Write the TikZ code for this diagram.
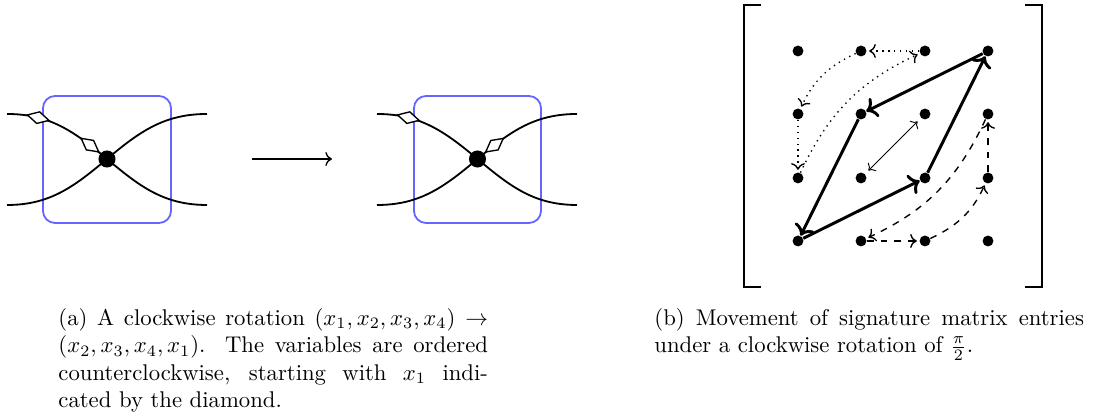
\documentclass[tikz,border=0pt]{standalone}
\usepackage{amsmath}
\usetikzlibrary{arrows.meta,shapes.geometric}
\tikzset{
  wire/.style={thick},
  region/.style={draw=blue!60, thick, rounded corners=5.3pt},
  vertex/.style={circle, fill=black, inner sep=0pt, minimum size=7.5pt},
  marker/.style={diamond, draw, fill=white, semithick, inner sep=0pt,
    minimum width=10pt, minimum height=5.5pt, sloped},
  entry/.style={circle, fill=black, inner sep=0pt, minimum size=4.8pt},
  mainmove/.style={->, line width=1.3pt},
  dotmove/.style={->, dotted, semithick, shorten >=1pt},
  dashmove/.style={->, dashed, semithick, shorten >=1pt},
  caption/.style={text width=189pt, align=justify, inner sep=0pt, anchor=north west}
}

\begin{document}
\begin{tikzpicture}[x=0.44pt, y=0.44pt]
    \useasboundingbox (0,0) rectangle (1117,418);

    % Before the rotation
    \draw[region] (43,195) rectangle (171,322);
    \coordinate (ca) at (107,259);
    \coordinate (la1) at (7,304);   \coordinate (la2) at (7,213);
    \coordinate (ra1) at (207,304); \coordinate (ra2) at (207,213);
    \draw[wire] (la1) to[out=0,in=140]
        node[marker, pos=0.27] (da1) {}
        node[marker, pos=0.82] (da2) {} (ca)
        to[out=-40,in=180] (ra2);
    \draw[wire] (la2) to[out=0,in=-140] (ca) to[out=40,in=180] (ra1);
    \node[vertex] (va) at (ca) {};

    % Rotation arrow
    \coordinate (rotfrom) at (252,259);
    \coordinate (rotto) at (332,259);
    \draw[->, semithick] (rotfrom) -- (rotto);

    % After the rotation
    \draw[region] (414,195) rectangle (541,322);
    \coordinate (cb) at (477.5,259);
    \coordinate (lb1) at (377,304); \coordinate (lb2) at (377,213);
    \coordinate (rb1) at (577,304); \coordinate (rb2) at (577,213);
    \draw[wire] (lb1) to[out=0,in=140]
        node[marker, pos=0.27] (db1) {} (cb)
        to[out=-40,in=180] (rb2);
    \draw[wire] (lb2) to[out=0,in=-140] (cb)
        to[out=40,in=180] node[marker, pos=0.18] (db2) {} (rb1);
    \node[vertex] (vb) at (cb) {};

    % Signature matrix
    \draw[semithick] (761,413) -- (744,413) -- (744,131) -- (761,131);
    \draw[semithick] (1025,413) -- (1042,413) -- (1042,131) -- (1025,131);
    \foreach \r/\yy in {1/367,2/304,3/240,4/177} {
        \foreach \c/\xx in {1/798,2/861,3/925,4/988} {
            \node[entry] (m\r\c) at (\xx,\yy) {};
        }
    }

    % Entries moving along the main cycle
    \draw[mainmove] (m14) -- (m22);
    \draw[mainmove] (m22) -- (m41);
    \draw[mainmove] (m41) -- (m33);
    \draw[mainmove] (m33) -- (m14);
    \draw[<->, shorten <=2pt, shorten >=2pt] (m23) -- (m32);

    % Upper left cycle
    \draw[dotmove] (m13) -- (m12);
    \draw[dotmove] (m12) to[bend right=20] (m21);
    \draw[dotmove] (m21) -- (m31);
    \draw[dotmove] (m31) to[bend left=20] (m13);

    % Lower right cycle
    \draw[dashmove] (m42) -- (m43);
    \draw[dashmove] (m43) to[bend right=20] (m34);
    \draw[dashmove] (m34) -- (m24);
    \draw[dashmove] (m24) to[bend left=20] (m42);

    % Captions
    \node[caption] (capa) at (58,110) {(a) A clockwise rotation
        $(x_1,x_2,x_3,x_4)\to(x_2,x_3,x_4,x_1)$. The variables are ordered
        counterclockwise, starting with $x_1$ indi-\linebreak cated by the diamond.};
    \node[caption] (capb) at (654,110) {(b) Movement of signature matrix
        entries under a clockwise rotation of $\frac{\pi}{2}$.};
\end{tikzpicture}
\end{document}
